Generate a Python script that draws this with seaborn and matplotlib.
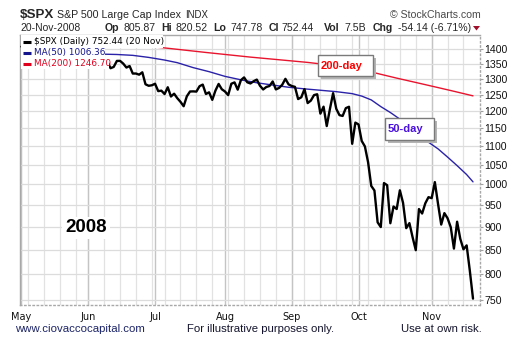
import numpy as np
import pandas as pd
import matplotlib
matplotlib.use("Agg")
import matplotlib.pyplot as plt
from matplotlib.patches import Rectangle, Polygon
from matplotlib.lines import Line2D
from matplotlib.ticker import NullLocator
import seaborn as sns

# ---- data -------------------------------------------------------------
# S&P 500 daily closes, trading days 1 May 2008 .. 20 Nov 2008
closes = [
    1409.34, 1413.90, 1407.49, 1418.26, 1392.57, 1397.68, 1388.28, 1403.58, 1403.04, 1408.66,
    1423.57, 1425.35, 1426.63, 1413.40, 1390.71, 1394.35, 1375.93, 1385.35, 1390.84, 1398.26,
    1400.38,
    1385.67, 1377.65, 1377.20, 1404.05, 1360.68, 1361.76, 1358.44, 1335.49, 1339.87, 1360.03,
    1360.14, 1350.93, 1337.81, 1342.83, 1317.93, 1318.00, 1314.29, 1321.97, 1283.15, 1278.38,
    1280.00,
    1284.91, 1261.52, 1262.90, 1252.31, 1273.70, 1244.69, 1253.39, 1239.49, 1228.30, 1214.91,
    1245.36, 1260.32, 1260.68, 1260.00, 1277.00, 1282.19, 1252.54, 1257.76, 1234.37, 1263.20,
    1284.26, 1267.38,
    1260.31, 1249.01, 1284.88, 1289.19, 1266.07, 1296.32, 1305.32, 1289.59, 1285.83, 1292.93,
    1298.20, 1278.60, 1266.69, 1274.54, 1277.72, 1292.20, 1266.84, 1271.51, 1281.66, 1300.68,
    1282.83,
    1277.58, 1274.98, 1236.83, 1242.31, 1267.79, 1224.51, 1232.04, 1249.05, 1251.70, 1192.70,
    1213.60, 1156.39, 1206.51, 1255.08, 1207.09, 1188.22, 1185.87, 1209.18, 1213.27, 1106.42,
    1166.36,
    1161.06, 1114.28, 1099.23, 1056.89, 996.23, 984.94, 909.92, 899.22, 1003.35, 998.01,
    907.84, 946.43, 940.55, 985.40, 955.05, 896.78, 908.11, 876.77, 848.92, 940.51,
    930.09, 954.09, 968.75,
    966.30, 1005.75, 952.77, 904.88, 930.99, 919.21, 898.95, 852.30, 911.29, 873.29,
    850.75, 859.12, 806.58, 752.44,
]
holidays = ["2008-05-26", "2008-07-04", "2008-09-01"]

ma50_dates = ["2008-05-01", "2008-05-15", "2008-05-30", "2008-06-09", "2008-06-13",
              "2008-06-20", "2008-06-27", "2008-07-07", "2008-07-11", "2008-07-18",
              "2008-07-25", "2008-08-01", "2008-08-08", "2008-08-15", "2008-08-22",
              "2008-08-29", "2008-09-08", "2008-09-15", "2008-09-22", "2008-09-29",
              "2008-10-02", "2008-10-07", "2008-10-10", "2008-10-15", "2008-10-20",
              "2008-10-23", "2008-10-28", "2008-10-31", "2008-11-05", "2008-11-10",
              "2008-11-13", "2008-11-18", "2008-11-20"]
ma50_vals = [1338, 1356, 1374, 1383, 1382, 1379, 1372, 1363, 1354.1, 1337.5,
             1324.1, 1308.7, 1297.5, 1288.0, 1280.7, 1273.7, 1268.6, 1264.2, 1259.8, 1253.6,
             1246.0, 1234.2, 1213.8, 1196.1, 1176.5, 1154.1, 1130.0, 1110.7, 1092.6, 1070.4,
             1047.9, 1024.8, 1006.36]

ma200_dates = ["2008-05-01", "2008-06-03", "2008-07-03", "2008-07-24", "2008-08-13",
               "2008-08-26", "2008-09-09", "2008-09-19", "2008-10-01", "2008-10-09",
               "2008-10-17", "2008-10-27", "2008-11-04", "2008-11-12", "2008-11-20"]
ma200_vals = [1432, 1421, 1406, 1389, 1373, 1364, 1355, 1345, 1334, 1318,
              1303, 1289, 1275, 1261, 1246.70]

y_ticks = list(range(750, 1401, 50))
month_names = ["May", "Jun", "Jul", "Aug", "Sep", "Oct", "Nov"]

# ---- figure -----------------------------------------------------------
W, H, DPI = 522, 345, 100
sns.set_theme(style="white")
plt.rcParams["font.family"] = ["Liberation Sans", "DejaVu Sans"]

fig = plt.figure(figsize=(W / DPI, H / DPI), dpi=DPI)
fig.patch.set_facecolor("white")


def fx(x):
    return x / W


def fy(y):
    return 1 - y / H


ax = fig.add_axes([fx(20), fy(305), 460 / W, 270 / H])
ax.set_facecolor("white")

dates = pd.bdate_range("2008-05-01", "2008-11-20")
dates = dates[~dates.isin(pd.to_datetime(holidays))]
pos = pd.Series(np.arange(len(dates)), index=dates)

price = pd.DataFrame({"pos": pos.values, "close": closes})
ma50 = pd.DataFrame({"pos": pos[pd.to_datetime(ma50_dates)].values, "val": ma50_vals})
ma200 = pd.DataFrame({"pos": pos[pd.to_datetime(ma200_dates)].values, "val": ma200_vals})

# grid: weekly verticals, darker month verticals, horizontals at each tick
weeks = dates.isocalendar().week.values
week_starts = [i for i in range(len(dates)) if i == 0 or weeks[i] != weeks[i - 1]]
months = dates.month.values
month_starts = [i for i in range(len(dates)) if i == 0 or months[i] != months[i - 1]]
for i in week_starts:
    ax.axvline(i, color="#e2e2e2", lw=0.9, zorder=0)
for i in month_starts:
    ax.axvline(i, color="#c4c4c4", lw=1.0, zorder=0)
for v in y_ticks:
    ax.axhline(v, color="#dcdcdc", lw=0.9, zorder=0)

sns.lineplot(data=ma200, x="pos", y="val", color="#e8142e", lw=1.0, ax=ax,
             estimator=None, sort=False, zorder=2)
sns.lineplot(data=ma50, x="pos", y="val", color="#2a22a8", lw=1.0, ax=ax,
             estimator=None, sort=False, zorder=2)
sns.lineplot(data=price, x="pos", y="close", color="black", lw=1.7, ax=ax,
             estimator=None, sort=False, zorder=3)

ax.set_yscale("log")
ax.set_ylim(740.6, 1450.7)
ax.set_xlim(-0.47, 144.2)
ax.set_xlabel("")
ax.set_ylabel("")

ax.yaxis.tick_right()
ax.set_yticks(y_ticks)
ax.set_yticklabels([str(v) for v in y_ticks])
ax.yaxis.set_minor_locator(NullLocator())
ax.tick_params(axis="y", which="major", right=True, length=2, width=0.8,
               color="#a0a0a0", labelsize=7.6, pad=1, labelcolor="#111111")

ax.set_xticks(month_starts)
ax.set_xticklabels(month_names, family=["DejaVu Sans"], fontsize=7)
ax.tick_params(axis="x", length=0, pad=5, labelcolor="#111111")

for side in ("left", "top"):
    ax.spines[side].set_color("#a8a8a8")
    ax.spines[side].set_linewidth(1.0)
for side in ("right", "bottom"):
    ax.spines[side].set_color("#a8a8a8")
    ax.spines[side].set_linewidth(1.0)
    ax.spines[side].set_linestyle((0, (1, 2)))

# ---- legend rows over the plot ---------------------------------------
rows = [
    ("$SPX (Daily) 752.44 (20 Nov)", "black", "black", 35, 47.5, 163),
    ("MA(50) 1006.36", "#14148c", "#14148c", 47.5, 57.5, 105),
    ("MA(200) 1246.70", "#e0001e", "#e0001e", 57.5, 69, 109),
]
for text, tcol, lcol, y0, y1, x1 in rows:
    fig.add_artist(Rectangle((fx(20.5), fy(y1)), (x1 - 20.5) / W, (y1 - y0) / H,
                             transform=fig.transFigure, facecolor="white",
                             edgecolor="none", zorder=5))
    yc = (y0 + y1) / 2 + 0.5
    fig.add_artist(Line2D([fx(23), fx(31)], [fy(yc), fy(yc)], transform=fig.transFigure,
                          color=lcol, lw=2.2, solid_capstyle="butt", zorder=6))
    fig.text(fx(34), fy(yc), text.replace("$", r"\$"), color=tcol, fontsize=6.4,
             family=["DejaVu Sans"], va="center", ha="left", zorder=7)

# ---- callout boxes ----------------------------------------------------
def callout(x0, y0, x1, y1, label, color):
    fig.add_artist(Rectangle((fx(x0 + 3), fy(y1 + 3)), (x1 - x0) / W, (y1 - y0) / H,
                             transform=fig.transFigure, facecolor="#b4b4b4",
                             edgecolor="none", zorder=5))
    fig.add_artist(Rectangle((fx(x0), fy(y1)), (x1 - x0) / W, (y1 - y0) / H,
                             transform=fig.transFigure, facecolor="white",
                             edgecolor="#7a7a7a", lw=1.0, zorder=6))
    fig.text(fx(x0 + 3), fy((y0 + y1) / 2 + 0.5), label, color=color, fontsize=8,
             fontweight="bold", va="center", ha="left", zorder=7)


callout(318, 55, 373, 76, "200-day", "#ff0000")
callout(385, 118, 434, 140, "50-day", "#4a10e0")

# year label
fig.text(fx(86), fy(228), "2008", fontsize=13.5, fontweight="bold", color="black",
         ha="center", va="center", zorder=7,
         bbox=dict(facecolor="white", edgecolor="none", pad=2))

# ---- header -----------------------------------------------------------
fig.text(fx(20), fy(15), r"\$SPX", fontsize=9.6, fontweight="bold", va="center", ha="left")
fig.text(fx(57), fy(15), "S&P 500 Large Cap Index", fontsize=7.7, va="center", ha="left")
fig.text(fx(185), fy(15.5), "INDX", fontsize=6.9, va="center", ha="left")
fig.text(fx(481), fy(15), "\u00a9 StockCharts.com", fontsize=7.6, color="#4a4a4a",
         va="center", ha="right")

hdr_y = fy(28)
fig.text(fx(20), hdr_y, "20-Nov-2008", fontsize=7.5, va="center", ha="left")
pieces = [
    (105, "Op", True), (123, "805.87", False),
    (161, "Hi", True), (176, "820.52", False),
    (213, "Lo", True), (230, "747.78", False),
    (269, "Cl", True), (281, "752.44", False),
    (324, "Vol", True), (344, "7.5B", False),
    (373, "Chg", True), (398, "-54.14 (-6.71%)", False),
]
for x, s, bold in pieces:
    fig.text(fx(x), hdr_y, s, fontsize=7.6, fontweight="bold" if bold else "normal",
             va="center", ha="left")
fig.add_artist(Polygon([(fx(473), fy(26)), (fx(480), fy(26)), (fx(476.5), fy(30.5))],
                       closed=True, transform=fig.transFigure, facecolor="#a0102a",
                       edgecolor="none"))

# ---- footer -----------------------------------------------------------
fig.text(fx(15), fy(329), "www.ciovaccocapital.com", fontsize=8.2, color="#1c2468",
         va="center", ha="left")
fig.text(fx(261), fy(329), "For illustrative purposes only.", fontsize=8.2,
         color="#14142e", va="center", ha="center")
fig.text(fx(482), fy(329), "Use at own risk.", fontsize=8.2, color="#14142e",
         va="center", ha="right")

fig.savefig("out.png", dpi=DPI, facecolor="white")
